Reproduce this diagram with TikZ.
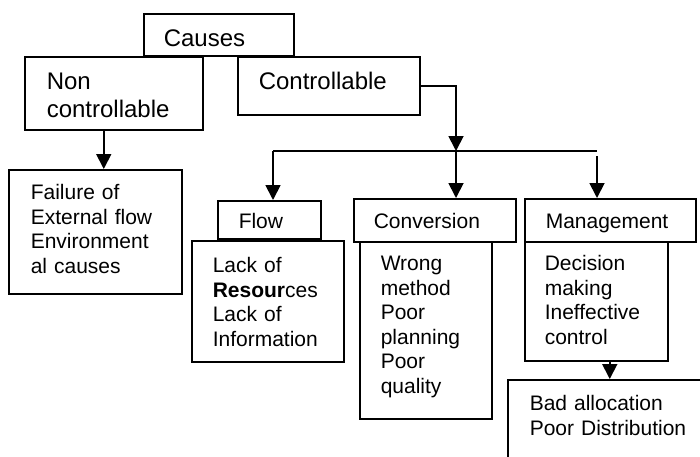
\documentclass[tikz,border=0pt]{standalone}
\usepackage{fontspec}
\setmainfont{Liberation Sans}
\usetikzlibrary{arrows.meta}
\tikzset{
    headbox/.style={rectangle, draw=black, line width=1.5pt, anchor=north west, inner xsep=0pt, inner ysep=0pt, align=left, text height=33pt, font=\fontsize{24}{28}\selectfont},
    listbox/.style={rectangle, draw=black, line width=1.5pt, anchor=north west, inner xsep=0pt, inner ysep=0pt, align=left, text height=30pt, font=\fontsize{21}{24.5}\selectfont},
    arrow/.style={line width=1.8pt, -{Triangle[length=15pt, width=15pt]}}
}

\begin{document}
\begin{tikzpicture}[x=1pt, y=-1pt]
    \useasboundingbox (0,0) rectangle (700,456);
    \clip (0,0) rectangle (700,456);

    \node[headbox, minimum width=150pt, text width=110pt, text depth=9pt] (causes) at (143,13) {Causes};
    \node[headbox, minimum width=178pt, text width=134pt, text depth=40pt] (noncontrol) at (24,56) {Non\\controllable};
    \node[headbox, minimum width=182pt, text width=140pt, text depth=25pt] (control) at (237,56) {Controllable};

    \node[listbox, minimum width=173pt, text width=129pt, text depth=94pt] (failure) at (8,169) {Failure of\\External flow\\Environment\\al causes};

    \node[listbox, minimum width=103pt, text width=61pt, text depth=10pt, text height=28pt] (flow) at (217,200) {Flow};
    \node[listbox, minimum width=152pt, text width=110pt, text depth=89pt, text height=32pt] (flowlist) at (191,240) {Lack of\\\textbf{Resour}ces\\Lack of\\Information};

    \node[listbox, minimum width=162pt, text width=122pt, text depth=13pt] (conversion) at (353,198) {Conversion};
    \node[listbox, minimum width=132pt, text width=90pt, text depth=148pt, text height=29pt] (convlist) at (359,241) {Wrong\\method\\Poor\\planning\\Poor\\quality};

    \node[listbox, minimum width=171pt, text width=129pt, text depth=13pt] (management) at (524,198) {Management};
    \node[listbox, minimum width=143pt, text width=103pt, text depth=90pt, text height=29pt] (mgmtlist) at (524,241) {Decision\\making\\Ineffective\\control};

    \node[listbox, minimum width=250pt, text width=206pt, text depth=100pt, text height=31pt] (badalloc) at (507,379) {Bad allocation\\Poor Distribution};

    \coordinate (splitleft) at (273,151);
    \coordinate (splitmid) at (456,151);
    \coordinate (splitright) at (597,151);

    \draw[arrow] ([xshift=-10pt]noncontrol.south) -- ([xshift=-10pt]noncontrol.south |- failure.north);
    \draw[arrow] (control.east) -| (splitmid);
    \draw[line width=1.8pt] (splitleft) -- (splitright);
    \draw[arrow] (splitleft) -- (splitleft |- flow.north);
    \draw[arrow] (splitmid) -- (splitmid |- conversion.north);
    \draw[arrow] ([yshift=-5pt]splitright) -- (splitright |- management.north);
    \draw[arrow] ([xshift=13.5pt]mgmtlist.south) -- ([xshift=13.5pt]mgmtlist.south |- badalloc.north);
\end{tikzpicture}
\end{document}
